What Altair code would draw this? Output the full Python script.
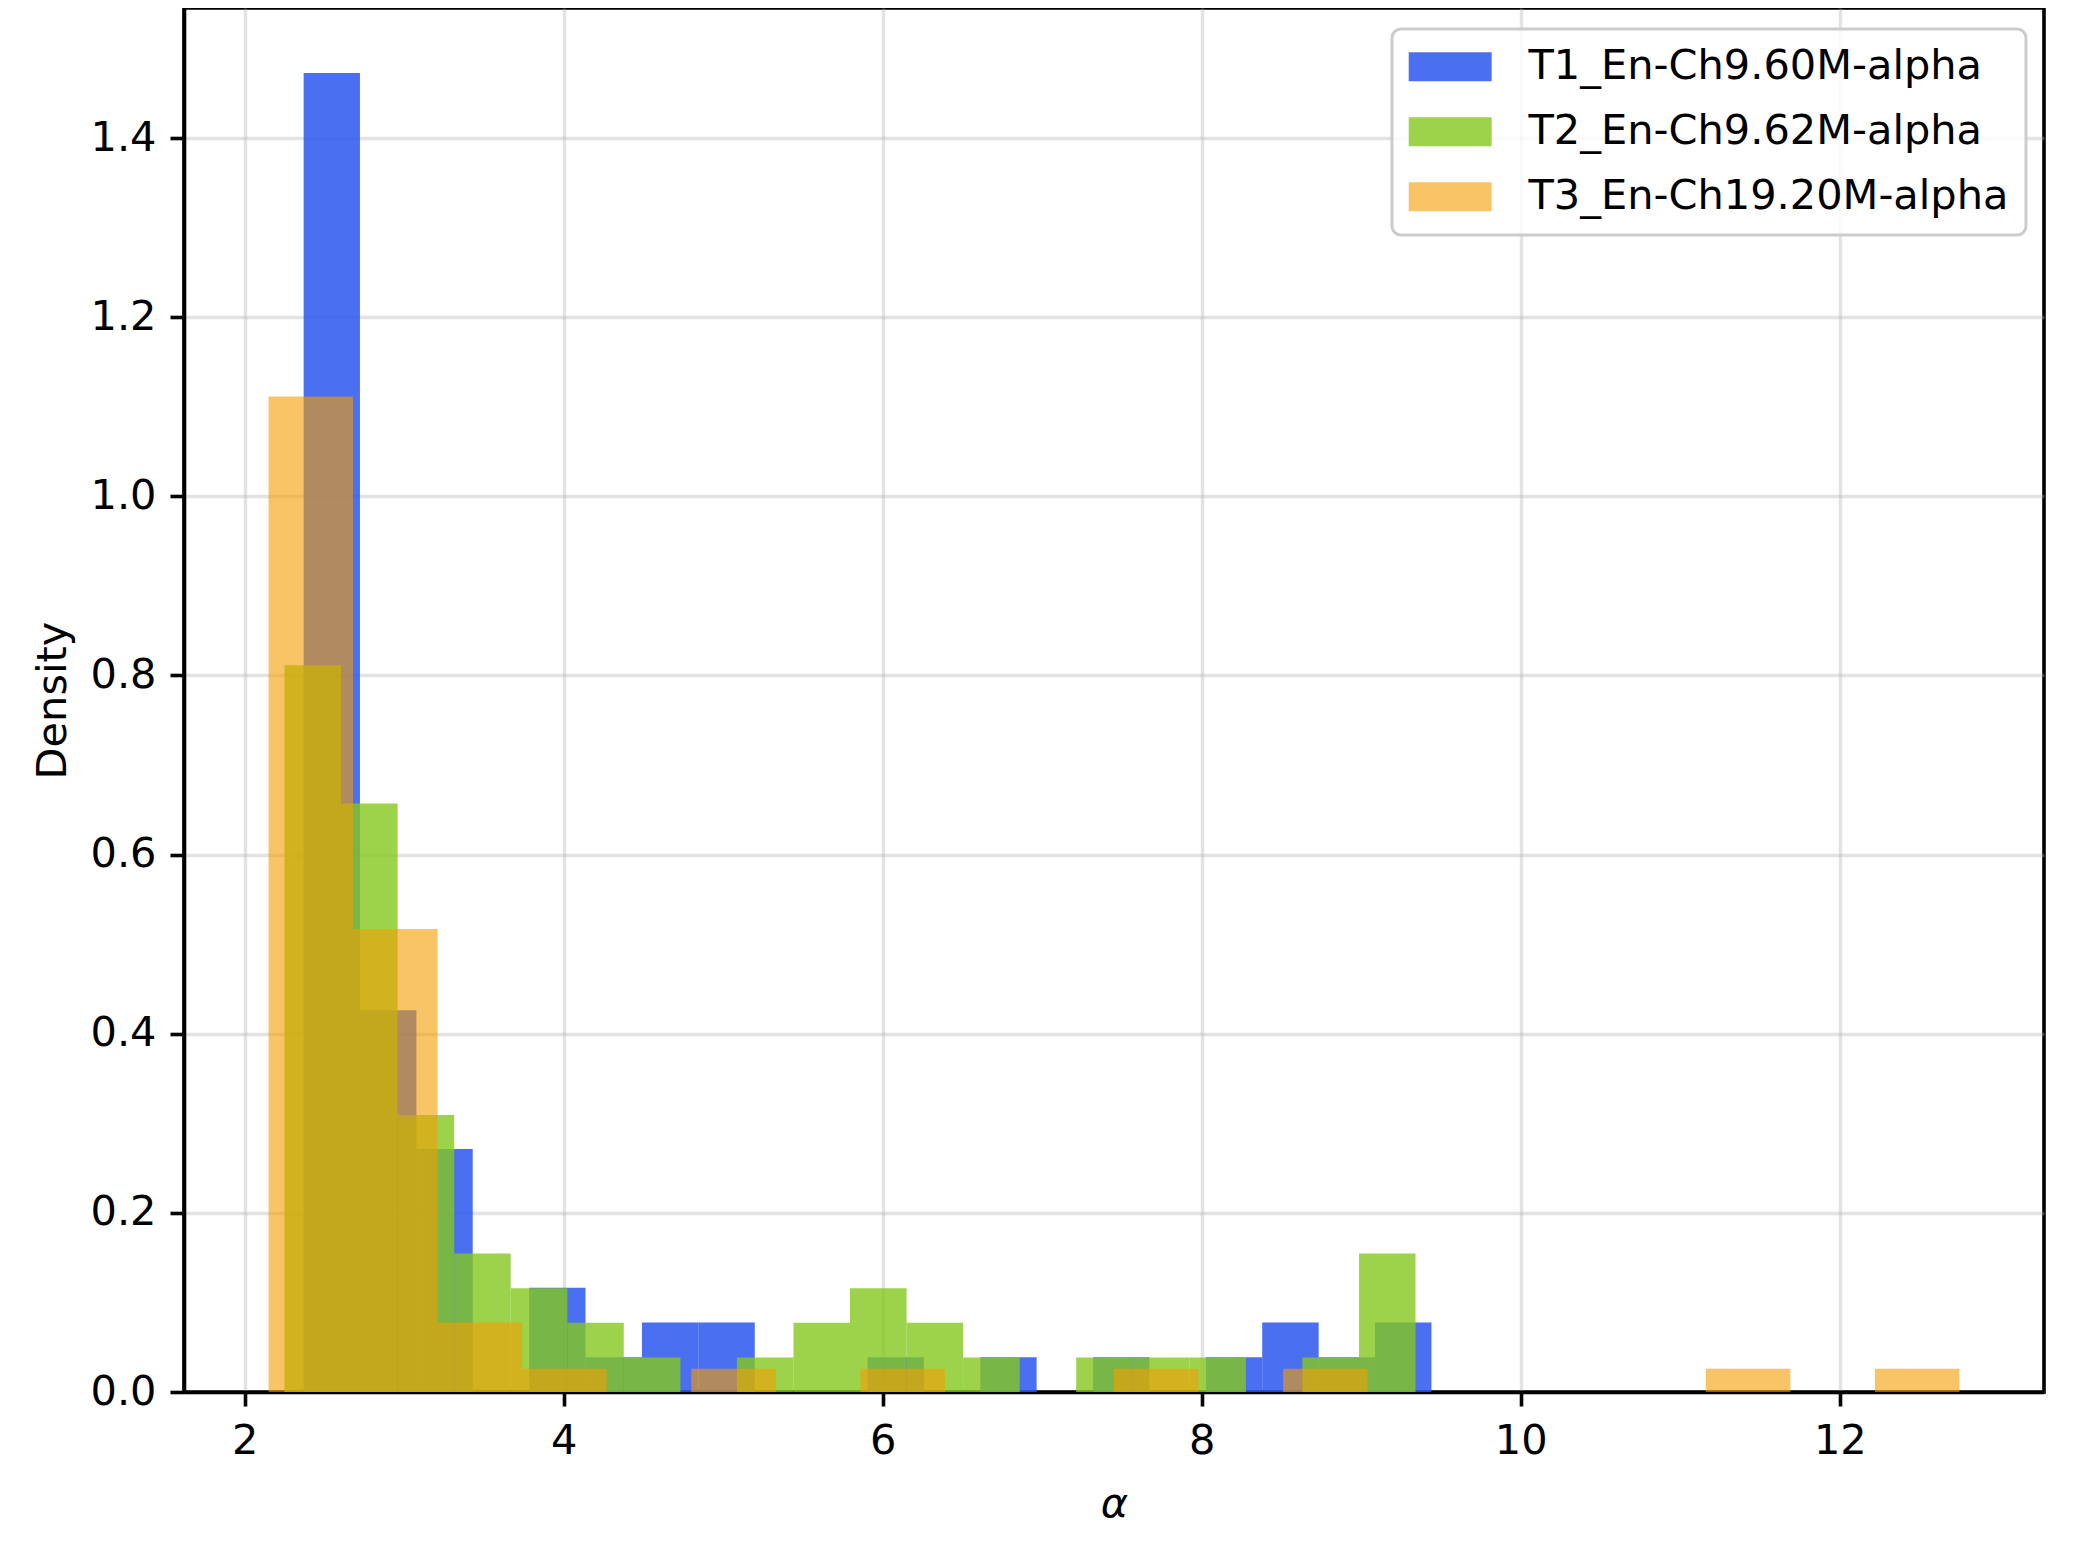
import altair as alt
import pandas as pd

series_names = ["T1_En-Ch9.60M-alpha", "T2_En-Ch9.62M-alpha", "T3_En-Ch19.20M-alpha"]
series_colors = ["rgba(42,86,237,0.85)", "rgba(132,200,30,0.8)", "rgba(245,157,0,0.6)"]
n_samples = 73

t1_edges = [2.370, 2.723, 3.077, 3.430, 3.784, 4.137, 4.491, 4.844, 5.198, 5.551, 5.905,
            6.258, 6.612, 6.965, 7.319, 7.672, 8.026, 8.379, 8.733, 9.086, 9.440]
t1_counts = [38, 11, 7, 0, 3, 1, 2, 2, 0, 0, 1, 0, 1, 0, 1, 0, 1, 2, 1, 2]

t2_edges = [2.250, 2.605, 2.959, 3.314, 3.668, 4.023, 4.377, 4.732, 5.086, 5.441, 5.795,
            6.150, 6.504, 6.859, 7.213, 7.568, 7.922, 8.277, 8.631, 8.986, 9.340]
t2_counts = [21, 17, 8, 4, 3, 2, 1, 0, 1, 2, 3, 2, 1, 0, 1, 1, 1, 0, 1, 4]

t3_edges = [2.15, 2.68, 3.21, 3.74, 4.27, 4.80, 5.33, 5.86, 6.39, 6.92, 7.45,
            7.98, 8.51, 9.04, 9.57, 10.10, 10.63, 11.16, 11.69, 12.22, 12.75]
t3_counts = [43, 20, 3, 1, 0, 1, 0, 1, 0, 0, 1, 0, 1, 0, 0, 0, 0, 1, 0, 1]

x_ticks = [2, 4, 6, 8, 10, 12]
y_ticks = [0.0, 0.2, 0.4, 0.6, 0.8, 1.0, 1.2, 1.4]
x_domain = [1.62, 13.28]
y_domain = [0.0, 1.5452]

rows = []
for name, edges, counts in zip(series_names, [t1_edges, t2_edges, t3_edges],
                               [t1_counts, t2_counts, t3_counts]):
    width = (edges[-1] - edges[0]) / len(counts)
    for i, c in enumerate(counts):
        if c == 0:
            continue
        rows.append({"series": name, "x0": edges[i], "x1": edges[i + 1],
                     "density": c / (n_samples * width), "base": 0.0})
df = pd.DataFrame(rows)

legend = alt.Legend(
    orient="none", legendX=1208, legendY=21,
    symbolType="M-1.45,-1L4.27,-1L4.27,1L-1.45,1Z", symbolSize=841, symbolStrokeWidth=0,
    labelFont="DejaVu Sans", labelFontSize=41.5, labelColor="black", labelOffset=78,
    labelLimit=1000, padding=17, rowPadding=22,
    fillColor="rgba(255,255,255,0.8)", strokeColor="#cccccc", cornerRadius=9,
)

chart = alt.Chart(df).mark_rect(strokeWidth=0).encode(
    x=alt.X("x0:Q", scale=alt.Scale(domain=x_domain, nice=False, zero=False),
            axis=alt.Axis(values=x_ticks, format="d", title="α", titleFontStyle="italic",
                          titlePadding=22)),
    x2="x1:Q",
    y=alt.Y("density:Q", scale=alt.Scale(domain=y_domain, nice=False),
            axis=alt.Axis(values=y_ticks, format=".1f", title="Density", titlePadding=16)),
    y2="base:Q",
    color=alt.Color("series:N", scale=alt.Scale(domain=series_names, range=series_colors),
                    legend=legend, title=None),
).properties(
    width=1860, height=1384,
    autosize=alt.AutoSizeParams(type="none"),
    padding={"left": 176, "top": 0, "right": 21, "bottom": 153},
    background="white",
).configure_axis(
    labelFont="DejaVu Sans", labelFontSize=41.5, labelColor="black",
    titleFont="DejaVu Sans", titleFontSize=41.5, titleFontWeight="normal", titleColor="black",
    domainColor="black", domainWidth=3.6, tickColor="black", tickWidth=3.6, tickSize=14,
    gridColor="#b0b0b0", gridOpacity=0.35, gridWidth=3.4, labelPadding=14,
    labelFlush=False, labelOverlap=False, zindex=1,
).configure_view(
    stroke="black", strokeWidth=3.6,
).configure_legend(
    strokeWidth=3,
)

chart.save("out.html", embed_options={"renderer": "svg", "actions": False})
